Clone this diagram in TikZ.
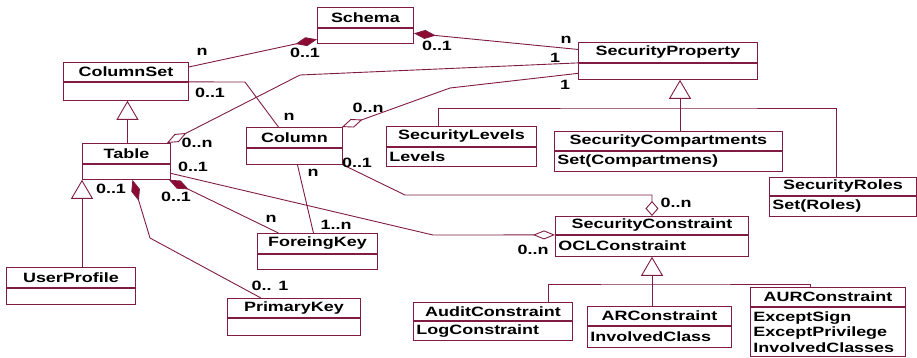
\documentclass[tikz,border=0pt]{standalone}
\usepackage{fontspec}
\usepackage{tikz}
\usetikzlibrary{arrows.meta, positioning}
\newfontfamily\umlfont{Liberation Sans}[FakeStretch=1.33]
\newcommand{\umlfnt}{\umlfont\bfseries\fontsize{13.5pt}{15.5pt}\selectfont}
\definecolor{umlline}{RGB}{128,28,68}
\definecolor{umldia}{RGB}{140,10,50}
\tikzset{
  umlhead/.style = {draw=umlline, line width=0.9pt, anchor=north west,
    inner sep=0pt, align=center, font=\umlfnt, minimum width=#1pt},
  umlbody/.style = {draw=umlline, line width=0.9pt, inner xsep=3pt,
    inner ysep=0pt, align=left, font=\umlfnt, text width=#1pt},
  mult/.style = {font=\umlfnt, inner sep=0pt},
  assoc/.style = {draw=umlline, line width=0.9pt},
  comp/.style = {assoc, {Diamond[length=22pt, width=9pt, fill=umldia]}-},
  aggr/.style = {assoc, {Diamond[length=22pt, width=9pt, fill=white]}-},
  aggrs/.style = {assoc, {Diamond[length=15pt, width=13pt, fill=white]}-},
  inh/.style = {assoc, -{Triangle[length=19pt, width=22pt, fill=white]}}
}
\begin{document}
\begin{tikzpicture}[x=1pt, y=-1pt]
\useasboundingbox (0,0) rectangle (917,357);

\node[umlhead=96, minimum height=20pt] (schema) at (317,7) {Schema};
\node[umlbody=90, minimum height=15pt, below=0pt of schema] (schema-b) {};
\node[umlhead=125, minimum height=19pt] (colset) at (63,62) {ColumnSet};
\node[umlbody=119, minimum height=18pt, below=0pt of colset] (colset-b) {};
\node[umlhead=88, minimum height=20pt] (table) at (82,143) {Table};
\node[umlbody=82, minimum height=15pt, below=0pt of table] (table-b) {};
\node[umlhead=96, minimum height=20pt] (column) at (246,127) {Column};
\node[umlbody=90, minimum height=16pt, below=0pt of column] (column-b) {};
\node[umlhead=179, minimum height=20pt] (secprop) at (578,42) {SecurityProperty};
\node[umlbody=173, minimum height=16pt, below=0pt of secprop] (secprop-b) {};
\node[umlhead=150, minimum height=20pt] (seclev) at (386,126) {SecurityLevels};
\node[umlbody=144, minimum height=19pt, below=0pt of seclev] (seclev-b) {Levels};
\node[umlhead=228, minimum height=19pt] (seccomp) at (554,131) {SecurityCompartments};
\node[umlbody=222, minimum height=20pt, below=0pt of seccomp] (seccomp-b) {Set(Compartmens)};
\node[umlhead=147, minimum height=18pt] (secroles) at (769,177) {SecurityRoles};
\node[umlbody=141, minimum height=20pt, below=0pt of secroles] (secroles-b) {Set(Roles)};
\node[umlhead=193, minimum height=18pt] (seccon) at (555,216) {SecurityConstraint};
\node[umlbody=187, minimum height=21pt, below=0pt of seccon] (seccon-b) {OCLConstraint};
\node[umlhead=120, minimum height=20pt] (fkey) at (257,233) {ForeingKey};
\node[umlbody=114, minimum height=15pt, below=0pt of fkey] (fkey-b) {};
\node[umlhead=129, minimum height=20pt] (userp) at (6,267) {UserProfile};
\node[umlbody=123, minimum height=16pt, below=0pt of userp] (userp-b) {};
\node[umlhead=133, minimum height=19pt] (pkey) at (227,298) {PrimaryKey};
\node[umlbody=127, minimum height=17pt, below=0pt of pkey] (pkey-b) {};
\node[umlhead=159, minimum height=18pt] (audit) at (413,302) {AuditConstraint};
\node[umlbody=153, minimum height=19pt, below=0pt of audit] (audit-b) {LogConstraint};
\node[umlhead=144, minimum height=19pt] (arc) at (587,306) {ARConstraint};
\node[umlbody=138, minimum height=21pt, below=0pt of arc] (arc-b) {InvolvedClass};
\node[umlhead=155, minimum height=19pt] (aur) at (750,287) {AURConstraint};
\node[umlbody=149, minimum height=49pt, below=0pt of aur] (aur-b)
  {ExceptSign\\ExceptPrivilege\\InvolvedClasses};

\coordinate (b1) at (300,75);
\coordinate (b2) at (245,82);
\coordinate (b3) at (450,88);
\coordinate (b4) at (405,195);
\coordinate (b5) at (652,195);
\coordinate (b6) at (433,235);
\coordinate (b7) at (150,238);
\coordinate (g1) at (680,108);
\coordinate (g2) at (652,284);

\draw[comp] ([yshift=-3.5pt]schema-b.west) -- ([yshift=5pt]colset.east);
\draw[comp] ([yshift=2.5pt]schema-b.east) -- ([yshift=3pt]secprop.west);
\draw[aggr] ([xshift=-4pt]table.north east) -- (b1) -- (secprop.south west);
\draw[assoc] (colset.south east) -- (b2) -- ([xshift=-16pt]column.north);
\draw[aggr] ([xshift=-1pt]column.north east) -- (b3) -- ([yshift=-2pt]secprop-b.west);
\draw[aggrs] (seccon.north) -- (b5) -- (b4) -- (column-b.south east);
\draw[aggr] (seccon.south west) -- (b6) -- ([yshift=-1.5pt]table-b.east);
\draw[comp] ([xshift=-2pt]table-b.south east) -- ([xshift=-39pt]fkey.north);
\draw[comp] ([xshift=6pt]table-b.south) -- (b7) -- ([xshift=-33pt]pkey.north);
\draw[assoc] ([xshift=3pt]column-b.south) -- ([xshift=-4pt]fkey.north);

\draw[inh] ([xshift=1pt]table.north) -- ([xshift=1pt]table.north |- colset-b.south);
\draw[inh] (userp.north -| table-b.south west) -- (table-b.south west);
\draw[assoc] ([xshift=-23pt]seclev.north) |- (g1) -| ([xshift=-7pt]secroles.north);
\draw[assoc] (seccomp.north -| g1) -- (g1);
\draw[inh] (g1) -- (g1 |- secprop-b.south);
\draw[assoc] ([xshift=55.5pt]audit.north) |- (g2) -| ([xshift=-17.5pt]aur.north);
\draw[assoc] (arc.north -| g2) -- (g2);
\draw[inh] (g2) -- (g2 |- seccon-b.south);

\node[mult] (m1) at (202,52) {n};
\node[mult] (m2) at (305,53) {0..1};
\node[mult] (m3) at (437,46) {0..1};
\node[mult] (m4) at (566,40) {n};
\node[mult] (m5) at (555,58) {1};
\node[mult] (m6) at (197,143) {0..n};
\node[mult] (m7) at (210,93) {0..1};
\node[mult] (m8) at (289,117) {n};
\node[mult] (m9) at (368,108) {0..n};
\node[mult] (m10) at (565,85) {1};
\node[mult] (m11) at (357,163) {0..1};
\node[mult] (m12) at (676,203) {0..n};
\node[mult] (m13) at (193,167) {0..1};
\node[mult] (m14) at (533,250) {0..n};
\node[mult] (m15) at (176,197) {0..1};
\node[mult] (m16) at (271,219) {n};
\node[mult] (m17) at (111,189) {0..1};
\node[mult] (m18) at (270,286) {0.. 1};
\node[mult] (m19) at (313,173) {n};
\node[mult] (m20) at (336,225) {1..n};
\end{tikzpicture}
\end{document}
